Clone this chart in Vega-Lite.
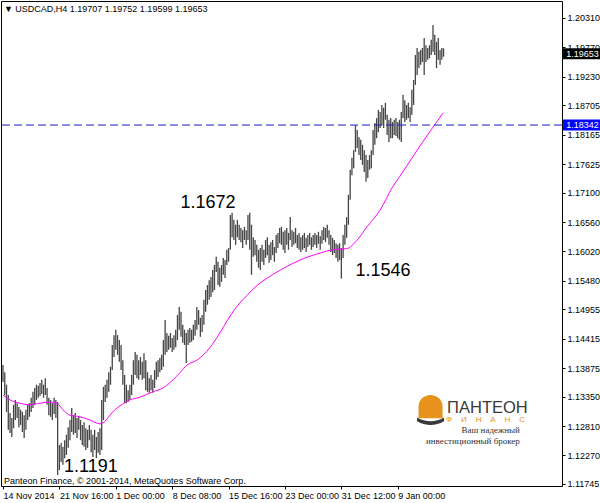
{
  "$schema": "https://vega.github.io/schema/vega-lite/v6.json",
  "width": 561,
  "height": 485,
  "autosize": {"type": "none"},
  "padding": {"left": 1, "top": 1, "right": 38, "bottom": 17},
  "background": "#ffffff",
  "config": {
    "view": {"stroke": "#000000", "strokeWidth": 1},
    "font": "Liberation Sans",
    "axis": {"labelFont": "Liberation Sans", "labelFontSize": 9, "labelColor": "#000000", "tickColor": "#000000", "domain": false, "grid": false, "title": null, "labelOverlap": false}
  },
  "datasets": {
    "one": [{}],
    "bars": [
      {"i":0,"h":1.1393,"l":1.1362},{"i":1,"h":1.1380,"l":1.1338},{"i":2,"h":1.1357,"l":1.1307},{"i":3,"h":1.1338,"l":1.1274},{"i":4,"h":1.1305,"l":1.1268},
      {"i":5,"h":1.1296,"l":1.1261},{"i":6,"h":1.1320,"l":1.1277},{"i":7,"h":1.1329,"l":1.1292},{"i":8,"h":1.1323,"l":1.1296},{"i":9,"h":1.1316,"l":1.1279},
      {"i":10,"h":1.1311,"l":1.1283},{"i":11,"h":1.1307,"l":1.1270},{"i":12,"h":1.1301,"l":1.1259},{"i":13,"h":1.1311,"l":1.1274},{"i":14,"h":1.1320,"l":1.1292},
      {"i":15,"h":1.1323,"l":1.1298},{"i":16,"h":1.1333,"l":1.1307},{"i":17,"h":1.1344,"l":1.1314},{"i":18,"h":1.1351,"l":1.1320},{"i":19,"h":1.1357,"l":1.1329},
      {"i":20,"h":1.1355,"l":1.1333},{"i":21,"h":1.1360,"l":1.1336},{"i":22,"h":1.1366,"l":1.1340},{"i":23,"h":1.1357,"l":1.1333},{"i":24,"h":1.1369,"l":1.1338},
      {"i":25,"h":1.1351,"l":1.1320},{"i":26,"h":1.1333,"l":1.1301},{"i":27,"h":1.1329,"l":1.1298},{"i":28,"h":1.1323,"l":1.1292},{"i":29,"h":1.1333,"l":1.1303},
      {"i":30,"h":1.1329,"l":1.1296},{"i":31,"h":1.1325,"l":1.1191},{"i":32,"h":1.1246,"l":1.1200},{"i":33,"h":1.1250,"l":1.1215},{"i":34,"h":1.1243,"l":1.1210},
      {"i":35,"h":1.1255,"l":1.1222},{"i":36,"h":1.1265,"l":1.1228},{"i":37,"h":1.1279,"l":1.1241},{"i":38,"h":1.1292,"l":1.1255},{"i":39,"h":1.1314,"l":1.1270},
      {"i":40,"h":1.1301,"l":1.1265},{"i":41,"h":1.1305,"l":1.1268},{"i":42,"h":1.1296,"l":1.1259},{"i":43,"h":1.1300,"l":1.1274},{"i":44,"h":1.1292,"l":1.1255},
      {"i":45,"h":1.1283,"l":1.1246},{"i":46,"h":1.1288,"l":1.1243},{"i":47,"h":1.1277,"l":1.1237},{"i":48,"h":1.1274,"l":1.1241},{"i":49,"h":1.1283,"l":1.1255},
      {"i":50,"h":1.1274,"l":1.1233},{"i":51,"h":1.1265,"l":1.1224},{"i":52,"h":1.1274,"l":1.1237},{"i":53,"h":1.1261,"l":1.1222},{"i":54,"h":1.1270,"l":1.1232},
      {"i":55,"h":1.1277,"l":1.1228},{"i":56,"h":1.1329,"l":1.1237},{"i":57,"h":1.1353,"l":1.1292},{"i":58,"h":1.1357,"l":1.1325},{"i":59,"h":1.1366,"l":1.1333},
      {"i":60,"h":1.1380,"l":1.1344},{"i":61,"h":1.1390,"l":1.1357},{"i":62,"h":1.1430,"l":1.1384},{"i":63,"h":1.1448,"l":1.1408},{"i":64,"h":1.1458,"l":1.1421},
      {"i":65,"h":1.1448,"l":1.1412},{"i":66,"h":1.1439,"l":1.1399},{"i":67,"h":1.1430,"l":1.1384},{"i":68,"h":1.1402,"l":1.1357},{"i":69,"h":1.1375,"l":1.1323},
      {"i":70,"h":1.1357,"l":1.1323},{"i":71,"h":1.1347,"l":1.1325},{"i":72,"h":1.1357,"l":1.1329},{"i":73,"h":1.1375,"l":1.1338},{"i":74,"h":1.1402,"l":1.1357},
      {"i":75,"h":1.1417,"l":1.1375},{"i":76,"h":1.1412,"l":1.1369},{"i":77,"h":1.1402,"l":1.1366},{"i":78,"h":1.1408,"l":1.1375},{"i":79,"h":1.1399,"l":1.1366},
      {"i":80,"h":1.1415,"l":1.1369},{"i":81,"h":1.1402,"l":1.1347},{"i":82,"h":1.1380,"l":1.1344},{"i":83,"h":1.1369,"l":1.1342},{"i":84,"h":1.1375,"l":1.1347},
      {"i":85,"h":1.1366,"l":1.1342},{"i":86,"h":1.1384,"l":1.1351},{"i":87,"h":1.1399,"l":1.1366},{"i":88,"h":1.1402,"l":1.1371},{"i":89,"h":1.1406,"l":1.1380},
      {"i":90,"h":1.1412,"l":1.1384},{"i":91,"h":1.1439,"l":1.1390},{"i":92,"h":1.1476,"l":1.1412},{"i":93,"h":1.1452,"l":1.1417},{"i":94,"h":1.1447,"l":1.1421},
      {"i":95,"h":1.1452,"l":1.1425},{"i":96,"h":1.1443,"l":1.1417},{"i":97,"h":1.1448,"l":1.1421},{"i":98,"h":1.1458,"l":1.1426},{"i":99,"h":1.1485,"l":1.1439},
      {"i":100,"h":1.1500,"l":1.1458},{"i":101,"h":1.1491,"l":1.1445},{"i":102,"h":1.1467,"l":1.1434},{"i":103,"h":1.1458,"l":1.1430},{"i":104,"h":1.1452,"l":1.1397},
      {"i":105,"h":1.1458,"l":1.1430},{"i":106,"h":1.1461,"l":1.1434},{"i":107,"h":1.1458,"l":1.1436},{"i":108,"h":1.1467,"l":1.1439},{"i":109,"h":1.1476,"l":1.1447},
      {"i":110,"h":1.1500,"l":1.1458},{"i":111,"h":1.1494,"l":1.1467},{"i":112,"h":1.1480,"l":1.1445},{"i":113,"h":1.1485,"l":1.1454},{"i":114,"h":1.1513,"l":1.1467},
      {"i":115,"h":1.1531,"l":1.1491},{"i":116,"h":1.1540,"l":1.1504},{"i":117,"h":1.1549,"l":1.1513},{"i":118,"h":1.1555,"l":1.1518},{"i":119,"h":1.1568,"l":1.1527},
      {"i":120,"h":1.1577,"l":1.1531},{"i":121,"h":1.1592,"l":1.1564},{"i":122,"h":1.1583,"l":1.1540},{"i":123,"h":1.1572,"l":1.1537},{"i":124,"h":1.1577,"l":1.1546},
      {"i":125,"h":1.1590,"l":1.1559},{"i":126,"h":1.1586,"l":1.1553},{"i":127,"h":1.1605,"l":1.1577},{"i":128,"h":1.1608,"l":1.1583},{"i":129,"h":1.1669,"l":1.1605},
      {"i":130,"h":1.1673,"l":1.1628},{"i":131,"h":1.1660,"l":1.1623},{"i":132,"h":1.1651,"l":1.1614},{"i":133,"h":1.1660,"l":1.1628},{"i":134,"h":1.1651,"l":1.1623},
      {"i":135,"h":1.1645,"l":1.1619},{"i":136,"h":1.1641,"l":1.1608},{"i":137,"h":1.1647,"l":1.1623},{"i":138,"h":1.1641,"l":1.1614},{"i":139,"h":1.1669,"l":1.1623},
      {"i":140,"h":1.1673,"l":1.1605},{"i":141,"h":1.1651,"l":1.1559},{"i":142,"h":1.1628,"l":1.1592},{"i":143,"h":1.1623,"l":1.1595},{"i":144,"h":1.1614,"l":1.1583},
      {"i":145,"h":1.1605,"l":1.1572},{"i":146,"h":1.1608,"l":1.1568},{"i":147,"h":1.1614,"l":1.1583},{"i":148,"h":1.1605,"l":1.1577},{"i":149,"h":1.1623,"l":1.1590},
      {"i":150,"h":1.1628,"l":1.1595},{"i":151,"h":1.1614,"l":1.1581},{"i":152,"h":1.1619,"l":1.1586},{"i":153,"h":1.1623,"l":1.1595},{"i":154,"h":1.1610,"l":1.1583},
      {"i":155,"h":1.1632,"l":1.1599},{"i":156,"h":1.1636,"l":1.1608},{"i":157,"h":1.1645,"l":1.1617},{"i":158,"h":1.1647,"l":1.1614},{"i":159,"h":1.1638,"l":1.1605},
      {"i":160,"h":1.1641,"l":1.1599},{"i":161,"h":1.1645,"l":1.1614},{"i":162,"h":1.1636,"l":1.1605},{"i":163,"h":1.1665,"l":1.1623},{"i":164,"h":1.1641,"l":1.1610},
      {"i":165,"h":1.1638,"l":1.1614},{"i":166,"h":1.1645,"l":1.1617},{"i":167,"h":1.1632,"l":1.1608},{"i":168,"h":1.1636,"l":1.1605},{"i":169,"h":1.1628,"l":1.1601},
      {"i":170,"h":1.1632,"l":1.1605},{"i":171,"h":1.1636,"l":1.1608},{"i":172,"h":1.1627,"l":1.1601},{"i":173,"h":1.1632,"l":1.1610},{"i":174,"h":1.1636,"l":1.1614},
      {"i":175,"h":1.1628,"l":1.1605},{"i":176,"h":1.1632,"l":1.1610},{"i":177,"h":1.1636,"l":1.1614},{"i":178,"h":1.1632,"l":1.1608},{"i":179,"h":1.1638,"l":1.1616},
      {"i":180,"h":1.1630,"l":1.1605},{"i":181,"h":1.1641,"l":1.1616},{"i":182,"h":1.1647,"l":1.1623},{"i":183,"h":1.1645,"l":1.1619},{"i":184,"h":1.1651,"l":1.1627},
      {"i":185,"h":1.1641,"l":1.1614},{"i":186,"h":1.1632,"l":1.1601},{"i":187,"h":1.1627,"l":1.1595},{"i":188,"h":1.1623,"l":1.1599},{"i":189,"h":1.1617,"l":1.1590},
      {"i":190,"h":1.1614,"l":1.1583},{"i":191,"h":1.1617,"l":1.1586},{"i":192,"h":1.1608,"l":1.1552},{"i":193,"h":1.1632,"l":1.1590},{"i":194,"h":1.1651,"l":1.1614},
      {"i":195,"h":1.1665,"l":1.1627},{"i":196,"h":1.1706,"l":1.1651},{"i":197,"h":1.1752,"l":1.1697},{"i":198,"h":1.1774,"l":1.1742},{"i":199,"h":1.1788,"l":1.1755},
      {"i":200,"h":1.1834,"l":1.1785},{"i":201,"h":1.1825,"l":1.1792},{"i":202,"h":1.1812,"l":1.1779},{"i":203,"h":1.1807,"l":1.1770},{"i":204,"h":1.1798,"l":1.1761},
      {"i":205,"h":1.1788,"l":1.1748},{"i":206,"h":1.1779,"l":1.1730},{"i":207,"h":1.1770,"l":1.1737},{"i":208,"h":1.1779,"l":1.1752},{"i":209,"h":1.1788,"l":1.1755},
      {"i":210,"h":1.1825,"l":1.1779},{"i":211,"h":1.1838,"l":1.1798},{"i":212,"h":1.1847,"l":1.1810},{"i":213,"h":1.1862,"l":1.1821},{"i":214,"h":1.1858,"l":1.1829},
      {"i":215,"h":1.1871,"l":1.1834},{"i":216,"h":1.1866,"l":1.1829},{"i":217,"h":1.1875,"l":1.1844},{"i":218,"h":1.1853,"l":1.1816},{"i":219,"h":1.1844,"l":1.1803},
      {"i":220,"h":1.1847,"l":1.1810},{"i":221,"h":1.1840,"l":1.1810},{"i":222,"h":1.1844,"l":1.1816},{"i":223,"h":1.1847,"l":1.1814},{"i":224,"h":1.1840,"l":1.1810},
      {"i":225,"h":1.1844,"l":1.1807},{"i":226,"h":1.1858,"l":1.1803},{"i":227,"h":1.1890,"l":1.1847},{"i":228,"h":1.1880,"l":1.1840},{"i":229,"h":1.1871,"l":1.1844},
      {"i":230,"h":1.1875,"l":1.1847},{"i":231,"h":1.1867,"l":1.1840},{"i":232,"h":1.1899,"l":1.1853},{"i":233,"h":1.1917,"l":1.1871},{"i":234,"h":1.1963,"l":1.1908},
      {"i":235,"h":1.1976,"l":1.1926},{"i":236,"h":1.1969,"l":1.1939},{"i":237,"h":1.1972,"l":1.1945},{"i":238,"h":1.1976,"l":1.1950},{"i":239,"h":1.1994,"l":1.1926},
      {"i":240,"h":1.1981,"l":1.1950},{"i":241,"h":1.1976,"l":1.1954},{"i":242,"h":1.1981,"l":1.1957},{"i":243,"h":1.1991,"l":1.1963},{"i":244,"h":1.2018,"l":1.1969},
      {"i":245,"h":1.2000,"l":1.1963},{"i":246,"h":1.1987,"l":1.1939},{"i":247,"h":1.1994,"l":1.1954},{"i":248,"h":1.1972,"l":1.1945},{"i":249,"h":1.1976,"l":1.1954},
      {"i":250,"h":1.19752,"l":1.19599}
    ],
    "ma": [
      {"i":0,"p":1.1338},{"i":4,"p":1.1329},{"i":9.6,"p":1.1323},{"i":15.3,"p":1.1320},{"i":21,"p":1.1323},{"i":26.7,"p":1.1325},{"i":30.6,"p":1.1323},
      {"i":34,"p":1.1311},{"i":38,"p":1.1301},{"i":43.7,"p":1.1298},{"i":49.4,"p":1.1292},{"i":55,"p":1.1285},{"i":58,"p":1.1290},{"i":60.7,"p":1.1301},
      {"i":63.5,"p":1.1311},{"i":66.4,"p":1.1318},{"i":72,"p":1.1329},{"i":77.7,"p":1.1334},{"i":85,"p":1.1344},{"i":90.8,"p":1.1351},{"i":96.5,"p":1.1366},
      {"i":100.4,"p":1.1379},{"i":104.4,"p":1.1393},{"i":110,"p":1.1402},{"i":117.4,"p":1.1425},{"i":123,"p":1.1452},{"i":127.5,"p":1.1476},{"i":131.6,"p":1.1496},
      {"i":138.4,"p":1.1521},{"i":144,"p":1.1539},{"i":150,"p":1.1553},{"i":157,"p":1.1567},{"i":164.5,"p":1.1580},{"i":168.5,"p":1.1586},{"i":180,"p":1.1599},
      {"i":187,"p":1.1605},{"i":195,"p":1.1607},{"i":201,"p":1.1623},{"i":206.5,"p":1.1647},{"i":214,"p":1.1678},{"i":221,"p":1.1720},{"i":225,"p":1.1739},
      {"i":237.7,"p":1.1801},{"i":249.6,"p":1.1856}
    ],
    "notes": [
      {"i":116.3,"p":1.1691,"t":"1.1672"},
      {"i":215.6,"p":1.1566,"t":"1.1546"},
      {"i":49.9,"p":1.1206,"t":"1.1191"}
    ]
  },
  "layer": [
    {
      "data": {"name": "bars"},
      "mark": {"type": "rule", "color": "#454545", "strokeWidth": 1.3},
      "encoding": {
        "x": {"field": "i", "type": "quantitative", "scale": {"domain": [-1.135, 317.2], "nice": false, "zero": false},
              "axis": {"orient": "bottom", "values": [0, 32, 64, 96, 128, 160, 192, 224], "tickCount": 20, "tickSize": 3, "labelAlign": "left", "labelPadding": 2, "labelOverlap": false,
                       "labelExpr": "['14 Nov 2014','21 Nov 16:00','1 Dec 00:00','8 Dec 08:00','15 Dec 16:00','23 Dec 00:00','31 Dec 12:00','9 Jan 00:00'][round(datum.value/32)]"}},
        "y": {"field": "h", "type": "quantitative", "scale": {"domain": [1.11708, 1.20622], "nice": false, "zero": false},
              "axis": {"orient": "right", "values": [1.20310, 1.19770, 1.19230, 1.18705, 1.18165, 1.17625, 1.17100, 1.16560, 1.16020, 1.15480, 1.14955, 1.14415, 1.13875, 1.13350, 1.12810, 1.12270, 1.11745],
                       "tickCount": 40, "format": ".5f", "tickSize": 3, "labelPadding": 2, "labelOverlap": false, "labelBound": false, "labelFlush": false}},
        "y2": {"field": "l"}
      }
    },
    {
      "data": {"name": "ma"},
      "mark": {"type": "line", "color": "#ff00ff", "strokeWidth": 1, "interpolate": "monotone"},
      "encoding": {
        "x": {"field": "i", "type": "quantitative"},
        "y": {"field": "p", "type": "quantitative"}
      }
    },
    {
      "data": {"name": "one"},
      "mark": {"type": "rule", "color": "#1c1cd0", "strokeWidth": 1, "strokeDash": [8, 4]},
      "encoding": {"y": {"datum": 1.18342}}
    },
    {
      "data": {"name": "notes"},
      "mark": {"type": "text", "font": "Liberation Sans", "fontSize": 18, "color": "#000000", "align": "center", "baseline": "middle"},
      "encoding": {
        "x": {"field": "i", "type": "quantitative"},
        "y": {"field": "p", "type": "quantitative"},
        "text": {"field": "t"}
      }
    },
    {
      "data": {"name": "one"},
      "mark": {"type": "text", "font": "Liberation Sans", "fontSize": 9, "color": "#000000", "align": "left", "baseline": "middle"},
      "encoding": {"x": {"datum": 0.5}, "y": {"datum": 1.20476}, "text": {"value": "▼  USDCAD,H4  1.19707 1.19752 1.19599 1.19653"}}
    },
    {
      "data": {"name": "one"},
      "mark": {"type": "text", "font": "Liberation Sans", "fontSize": 9, "color": "#000000", "align": "left", "baseline": "middle"},
      "encoding": {"x": {"datum": 0.5}, "y": {"datum": 1.11805}, "text": {"value": "Panteon Finance, © 2001-2014, MetaQuotes Software Corp."}}
    },
    {
      "data": {"name": "one"},
      "mark": {"type": "point", "filled": true, "opacity": 1, "color": "#000000", "size": 1369, "shape": "M-1,-0.3L1,-0.3L1,0.3L-1,0.3Z"},
      "encoding": {"x": {"datum": 328.3}, "y": {"datum": 1.19653}}
    },
    {
      "data": {"name": "one"},
      "mark": {"type": "point", "filled": true, "opacity": 1, "color": "#0000ff", "size": 1369, "shape": "M-1,-0.3L1,-0.3L1,0.3L-1,0.3Z"},
      "encoding": {"x": {"datum": 328.3}, "y": {"datum": 1.18342}}
    },
    {
      "data": {"name": "one"},
      "mark": {"type": "text", "font": "Liberation Sans", "fontSize": 9, "color": "#ffffff", "align": "left", "baseline": "middle"},
      "encoding": {"x": {"datum": 319.6}, "y": {"datum": 1.19653}, "text": {"value": "1.19653"}}
    },
    {
      "data": {"name": "one"},
      "mark": {"type": "text", "font": "Liberation Sans", "fontSize": 9, "color": "#ffffff", "align": "left", "baseline": "middle"},
      "encoding": {"x": {"datum": 319.6}, "y": {"datum": 1.18342}, "text": {"value": "1.18342"}}
    },
    {
      "data": {"name": "one"},
      "mark": {"type": "point", "filled": true, "opacity": 1, "color": "#e8921e", "size": 900, "shape": "M-0.8,0.6L-0.8,-0.2A0.8,0.75 0 0 1 0.8,-0.2L0.8,0.6Z"},
      "encoding": {"x": {"datum": 242.6}, "y": {"datum": 1.1312}}
    },
    {
      "data": {"name": "one"},
      "mark": {"type": "point", "filled": true, "opacity": 1, "color": "#3a3a3a", "size": 900, "shape": "M-0.9,0.55Q0,1.05 0.9,0.55L0.9,0.8Q0,1.3 -0.9,0.8Z"},
      "encoding": {"x": {"datum": 242.6}, "y": {"datum": 1.1312}}
    },
    {
      "data": {"name": "one"},
      "mark": {"type": "text", "font": "Liberation Sans", "fontSize": 16.5, "color": "#3a3a3a", "align": "left", "baseline": "alphabetic"},
      "encoding": {"x": {"datum": 252}, "y": {"datum": 1.1305}, "text": {"value": "ПАНТЕОН"}}
    },
    {
      "data": {"name": "one"},
      "mark": {"type": "text", "font": "Liberation Sans", "fontSize": 8, "color": "#e8921e", "align": "center", "baseline": "alphabetic"},
      "encoding": {"x": {"datum": 273.8}, "y": {"datum": 1.1288}, "text": {"value": "Ф\u00a0\u00a0\u00a0\u00a0И\u00a0\u00a0\u00a0\u00a0Н\u00a0\u00a0\u00a0\u00a0А\u00a0\u00a0\u00a0\u00a0Н\u00a0\u00a0\u00a0\u00a0С"}}
    },
    {
      "data": {"name": "one"},
      "mark": {"type": "text", "font": "Liberation Serif", "fontSize": 9, "color": "#333333", "align": "right", "baseline": "alphabetic"},
      "encoding": {"x": {"datum": 293.3}, "y": {"datum": 1.12683}, "text": {"value": "Ваш надежный"}}
    },
    {
      "data": {"name": "one"},
      "mark": {"type": "text", "font": "Liberation Serif", "fontSize": 9, "color": "#333333", "align": "right", "baseline": "alphabetic"},
      "encoding": {"x": {"datum": 293.3}, "y": {"datum": 1.1248}, "text": {"value": "инвестиционный брокер"}}
    }
  ]
}
